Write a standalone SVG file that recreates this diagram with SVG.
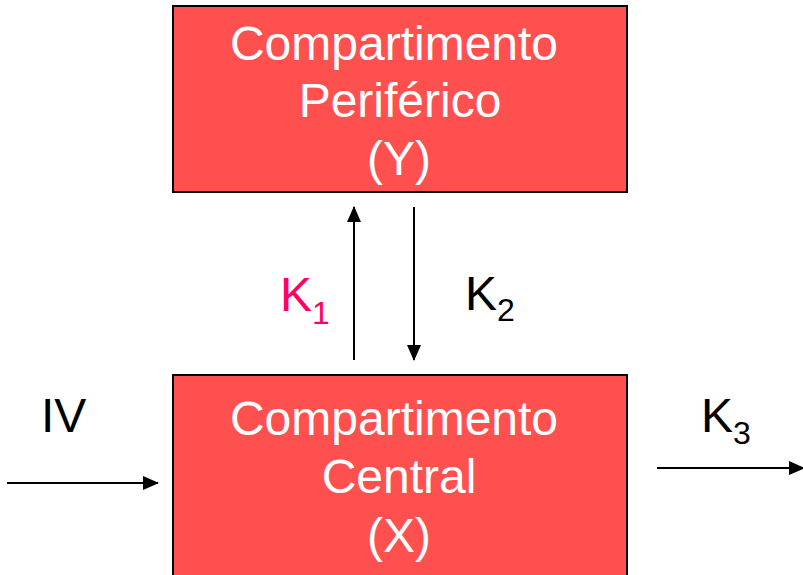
<svg xmlns="http://www.w3.org/2000/svg" width="803" height="575" viewBox="0 0 803 575">
<style>
.box{fill:#FF5050;stroke:#000;stroke-width:2}
.bt{font-family:"Liberation Sans",Arial,sans-serif;font-size:48px;fill:#fff;text-anchor:middle}
.lb{font-family:"Liberation Sans",Arial,sans-serif;font-size:48px;fill:#000}
.sub{font-size:32px}
.con{stroke:#000;stroke-width:2;fill:none;marker-end:url(#ah)}
</style>
<defs>
<marker id="ah" markerWidth="16" markerHeight="16" refX="15" refY="8" orient="auto" markerUnits="userSpaceOnUse">
<path d="M0,1 L16,8 L0,15 Z" fill="#000"/>
</marker>
</defs>
<rect width="803" height="575" fill="#fff"/>
<g id="periferico">
<rect class="box" x="173" y="6" width="454" height="186"/>
<text class="bt" x="394" y="60">Compartimento</text>
<text class="bt" x="400" y="117">Periférico</text>
<text class="bt" x="399" y="175">(Y)</text>
</g>
<g id="central">
<rect class="box" x="173" y="375" width="454" height="210"/>
<text class="bt" x="394" y="435">Compartimento</text>
<text class="bt" x="399" y="493">Central</text>
<text class="bt" x="399" y="552">(X)</text>
</g>
<g id="connectors">
<line class="con" x1="354" y1="360" x2="354" y2="207"/>
<line class="con" x1="414" y1="207" x2="414" y2="360"/>
<line class="con" x1="7" y1="483" x2="158" y2="483"/>
<line class="con" x1="657" y1="468" x2="804" y2="468"/>
</g>
<g id="labels">
<text class="lb" x="280" y="311" style="fill:#FF0066">K<tspan class="sub" dy="13">1</tspan></text>
<text class="lb" x="465" y="310">K<tspan class="sub" dy="11">2</tspan></text>
<text class="lb" x="41" y="432">IV</text>
<text class="lb" x="701" y="432">K<tspan class="sub" dy="12">3</tspan></text>
</g>
</svg>
